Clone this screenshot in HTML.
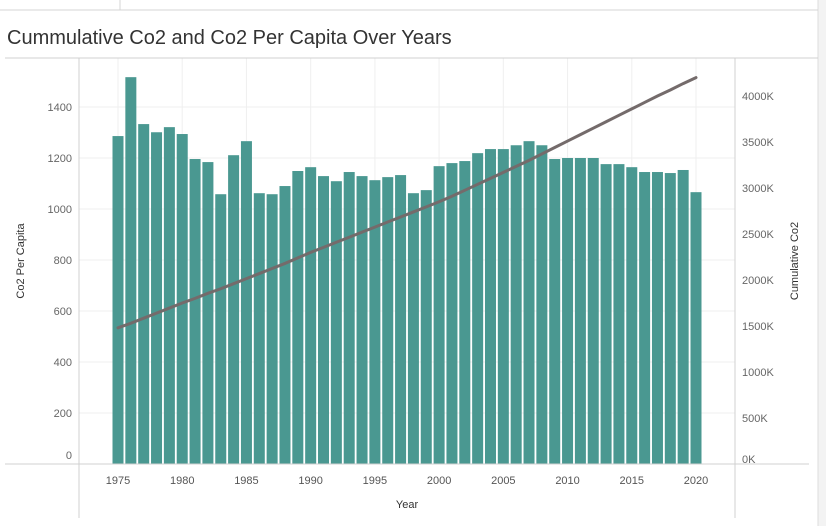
<!DOCTYPE html>
<html><head><meta charset="utf-8"><style>
body{margin:0;background:#fff;font-family:"Liberation Sans",sans-serif}
svg{display:block}
</style></head><body>
<svg id="chart" width="826" height="526">
<rect x="818" y="0" width="8" height="526" fill="#f3f3f3"/>
<line x1="818" y1="0" x2="818" y2="526" stroke="#ddd"/>
<line x1="0" y1="10" x2="818" y2="10" stroke="#d4d4d4" stroke-width="1"/>
<line x1="120" y1="0" x2="120" y2="10" stroke="#d4d4d4"/>
<text x="7" y="44" font-size="20" fill="#333">Cummulative Co2 and Co2 Per Capita Over Years</text>
<g id="grid"></g>
<g id="bars"></g>
<g id="line"></g>
<g id="axes"></g>
<text transform="translate(24,261) rotate(-90)" text-anchor="middle" font-size="11" fill="#333">Co2 Per Capita</text>
<text transform="translate(798,261) rotate(-90)" text-anchor="middle" font-size="11" fill="#333">Cumulative Co2</text>
<text x="407" y="508" text-anchor="middle" font-size="11" fill="#333">Year</text>
</svg>
<script>
const years=[1975,1976,1977,1978,1979,1980,1981,1982,1983,1984,1985,1986,1987,1988,1989,1990,1991,1992,1993,1994,1995,1996,1997,1998,1999,2000,2001,2002,2003,2004,2005,2006,2007,2008,2009,2010,2011,2012,2013,2014,2015,2016,2017,2018,2019,2020];
const perCapita=[1286,1517,1333,1301,1321,1294,1196,1184,1058,1211,1266,1062,1058,1090,1149,1164,1129,1109,1145,1129,1113,1125,1133,1062,1074,1168,1180,1188,1219,1235,1235,1250,1266,1250,1196,1200,1200,1200,1176,1176,1164,1145,1145,1141,1153,1066];
const cumulativeK=[1480,1530,1585,1640,1695,1750,1800,1855,1905,1960,2015,2070,2125,2180,2240,2300,2355,2410,2465,2520,2575,2630,2685,2740,2795,2850,2910,2975,3040,3105,3170,3235,3300,3370,3440,3510,3580,3650,3720,3790,3860,3930,4000,4065,4135,4200];
const leftTicks=[0,200,400,600,800,1000,1200,1400];
const rightTicks=[0,500,1000,1500,2000,2500,3000,3500,4000];
const xTicks=[1975,1980,1985,1990,1995,2000,2005,2010,2015,2020];
const NS="http://www.w3.org/2000/svg";
const x=y=>118+(y-1975)*(578/45);
const yL=v=>464-v*(51/200);
const yR=v=>464-v*0.092;
function mk(tag,parent,attrs){const e=document.createElementNS(NS,tag);for(const k in attrs)e.setAttribute(k,attrs[k]);document.getElementById(parent).appendChild(e);return e;}
leftTicks.forEach(t=>{if(t>0){const l=mk('line','grid',{x1:79,x2:735,y1:yL(t),y2:yL(t),stroke:'#efefef'});

}
const tx=mk('text','axes',{x:72,y:yL(t)+4-(t==0?9:0),'text-anchor':'end','font-size':11,fill:'#666'});tx.textContent=t;

});
xTicks.forEach(t=>{const l=mk('line','grid',{x1:x(t),x2:x(t),y1:58,y2:464,stroke:'#efefef'});


const tx=mk('text','axes',{x:x(t),y:484,'text-anchor':'middle','font-size':11,fill:'#555'});tx.textContent=t;

});
rightTicks.forEach(t=>{const tx=mk('text','axes',{x:742,y:yR(t)+4-(t==0?5:0),'font-size':11,fill:'#666'});tx.textContent=t+'K';

});
[[5,58,818,58],[5,464,809,464],[79,58,79,518],[735,58,735,518]].forEach(a=>{const l=mk('line','axes',{x1:a[0],y1:a[1],x2:a[2],y2:a[3],stroke:'#d0d0d0'});

});
years.forEach((yr,i)=>{const b=mk('rect','bars',{x:x(yr)-5.5,y:yL(perCapita[i]),width:11,height:464-yL(perCapita[i]),fill:'#4a9891'});

});
const p=mk('polyline','line',{points:years.map((yr,i)=>x(yr)+','+yR(cumulativeK[i])).join(' '),fill:'none',stroke:'#746b6b','stroke-width':3,'stroke-linecap':'round'});


</script>
</body></html>
